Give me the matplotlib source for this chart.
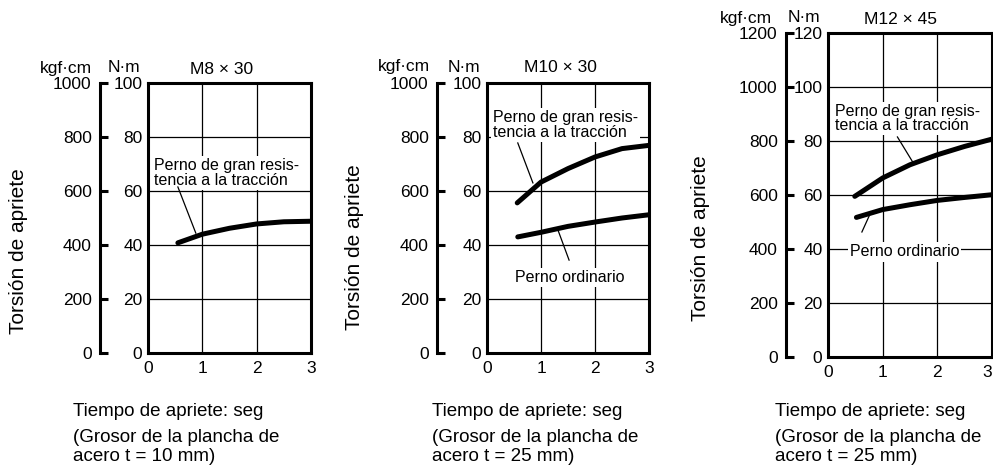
import matplotlib
matplotlib.use("Agg")
import matplotlib.pyplot as plt

plt.rcParams['font.family'] = ['Liberation Sans', 'DejaVu Sans']

W, H = 993, 467

# ---------------- data ----------------
time_ticks = [0, 1, 2, 3]
titles = ["M8 × 30", "M10 × 30", "M12 × 45"]
nm_max = [100, 100, 120]
kgf_max = [1000, 1000, 1200]
plate_notes = ["(Grosor de la plancha de\nacero t = 10 mm)",
               "(Grosor de la plancha de\nacero t = 25 mm)",
               "(Grosor de la plancha de\nacero t = 25 mm)"]

# Panel 1  M8x30
p1_high_t = [0.55, 1.0, 1.5, 2.0, 2.5, 3.0]
p1_high_v = [40.8, 44.0, 46.2, 47.8, 48.6, 48.8]
# Panel 2  M10x30
p2_high_t = [0.56, 1.0, 1.5, 2.0, 2.5, 3.0]
p2_high_v = [55.6, 63.3, 68.3, 72.6, 75.7, 76.9]
p2_ord_t = [0.57, 1.0, 1.5, 2.0, 2.5, 3.0]
p2_ord_v = [43.0, 44.7, 46.9, 48.5, 50.0, 51.2]
# Panel 3  M12x45
p3_high_t = [0.49, 1.0, 1.5, 2.0, 2.5, 3.0]
p3_high_v = [59.5, 66.3, 71.2, 74.9, 78.0, 80.7]
p3_ord_t = [0.52, 1.0, 1.5, 2.0, 2.5, 3.0]
p3_ord_v = [51.7, 54.6, 56.4, 58.0, 59.1, 60.1]

lbl_high = "Perno de gran resis-\ntencia a la tracción"
lbl_ord = "Perno ordinario"
ylabel = "Torsión de apriete"
xlabel = "Tiempo de apriete: seg"

# ---------------- layout helpers ----------------
def fx(px):
    return px / W

def fy(py):
    return 1 - py / H

def rect(x0, y0, x1, y1):
    return [fx(x0), fy(y1), (x1 - x0) / W, (y1 - y0) / H]

fig = plt.figure(figsize=(W / 100, H / 100), dpi=100)

boxes = [(148, 83, 311, 353), (487, 83, 649, 353), (828, 33, 992, 357)]
kgf_x = [100, 437, 786]
title_pos = [(222, 70), (560, 67), (900, 19)]
kgf_lbl = [(92, 68), (430, 67), (772, 18)]
nm_lbl = [(140, 68), (480, 67), (820, 18)]
ylab_pos = [(19, 251), (355, 247), (700, 238)]
bottom_x = [73, 432, 775]

SP = 2.2
axes = []
for i, (x0, y0, x1, y1) in enumerate(boxes):
    ax = fig.add_axes(rect(x0, y0, x1, y1))
    ax.set_xlim(0, 3)
    ax.set_ylim(0, nm_max[i])
    ax.set_xticks(time_ticks)
    ax.set_yticks(list(range(0, nm_max[i] + 1, 20)))
    ax.tick_params(length=0, labelsize=12.5, pad=4)
    ax.tick_params(axis='x', pad=6)
    for s in ax.spines.values():
        s.set_linewidth(SP)
        s.set_capstyle('projecting')
    ax.grid(True, color='black', linewidth=0.9)
    ax.set_axisbelow(True)
    axes.append(ax)

    # kgf.cm secondary scale
    k = fig.add_axes([fx(kgf_x[i]), fy(y1), 0.0005, (y1 - y0) / H])
    k.set_ylim(0, kgf_max[i])
    k.set_yticks(list(range(0, kgf_max[i] + 1, 200)))
    k.set_xticks([])
    for nm in ['top', 'right', 'bottom']:
        k.spines[nm].set_visible(False)
    k.spines['left'].set_linewidth(SP)
    k.spines['left'].set_capstyle('projecting')
    k.tick_params(axis='y', direction='in', length=6, width=SP, labelsize=12.5, pad=6)
    k.patch.set_visible(False)

    fig.text(fx(title_pos[i][0]), fy(title_pos[i][1]), titles[i], ha='center', va='center', fontsize=12.5)
    fig.text(fx(kgf_lbl[i][0]), fy(kgf_lbl[i][1]), "kgf·cm", ha='right', va='center', fontsize=12.5)
    fig.text(fx(nm_lbl[i][0]), fy(nm_lbl[i][1]), "N·m", ha='right', va='center', fontsize=12.5)
    fig.text(fx(ylab_pos[i][0]), fy(ylab_pos[i][1]), ylabel, rotation=90, ha='center', va='center', fontsize=15)
    fig.text(fx(bottom_x[i]), fy(412), xlabel, ha='left', va='center', fontsize=13.5)
    fig.text(fx(bottom_x[i]), fy(447), plate_notes[i], ha='left', va='center', fontsize=13.5, linespacing=1.1)

# last x tick label of the right panel sits flush with the figure edge
fig.canvas.draw()
axes[2].get_xticklabels()[-1].set_horizontalalignment('right')

LW = 3.6
bb = dict(facecolor='white', edgecolor='none', pad=1.5)

# Panel 1
ax = axes[0]
ax.plot(p1_high_t, p1_high_v, color='black', lw=LW, solid_capstyle='round', zorder=3)
ax.text(0.11, 66.6, lbl_high, ha='left', va='center', fontsize=11.5, linespacing=0.95, bbox=bb, zorder=4)
ax.plot([0.55, 0.88], [61.5, 44.4], color='black', lw=0.9, zorder=5)

# Panel 2
ax = axes[1]
ax.plot(p2_high_t, p2_high_v, color='black', lw=LW, solid_capstyle='round', zorder=3)
ax.plot(p2_ord_t, p2_ord_v, color='black', lw=LW, solid_capstyle='round', zorder=3)
ax.text(0.11, 84.5, lbl_high, ha='left', va='center', fontsize=11.5, linespacing=0.95, bbox=bb, zorder=4)
ax.text(1.53, 28.1, lbl_ord, ha='center', va='center', fontsize=11.5, bbox=bb, zorder=4)
ax.plot([0.57, 0.85], [77.8, 63.0], color='black', lw=0.9, zorder=5)
ax.plot([1.3, 1.52], [46.3, 34.4], color='black', lw=0.9, zorder=5)

# Panel 3
ax = axes[2]
ax.plot(p3_high_t, p3_high_v, color='black', lw=LW, solid_capstyle='round', zorder=3)
ax.plot(p3_ord_t, p3_ord_v, color='black', lw=LW, solid_capstyle='round', zorder=3)
ax.text(0.13, 88.3, lbl_high, ha='left', va='center', fontsize=11.5, linespacing=0.95, bbox=bb, zorder=4)
ax.text(1.40, 38.9, lbl_ord, ha='center', va='center', fontsize=11.5, bbox=bb, zorder=4)
ax.plot([1.27, 1.55], [81.5, 72.2], color='black', lw=0.9, zorder=5)
ax.plot([0.62, 0.77], [46.3, 53.0], color='black', lw=0.9, zorder=5)

fig.savefig("out.png", dpi=100)
